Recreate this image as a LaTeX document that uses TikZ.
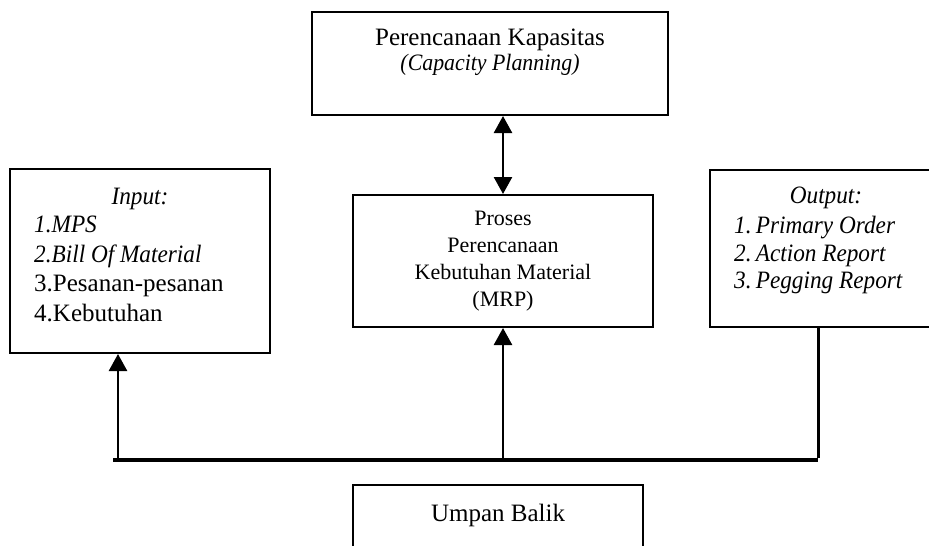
\documentclass[tikz,border=0pt]{standalone}
\usepackage{fontspec}
\setmainfont{Liberation Serif}[ItalicFeatures={FakeStretch=0.93}]
\usetikzlibrary{arrows.meta,positioning}

\begin{document}
\begin{tikzpicture}[x=1pt,y=-1pt,
    kotak/.style={draw,line width=2pt,inner sep=0pt},
    teks/.style={inner sep=0pt,align=center,font=\fontsize{25}{25}\selectfont},
    daftar/.style={inner sep=0pt,align=left,anchor=north west},
    panah/.style={line width=2.5pt,-{Triangle[width=18pt,length=17pt]}},
    panahdua/.style={line width=2.5pt,{Triangle[width=18pt,length=17pt]}-{Triangle[width=18pt,length=17pt]}}]
  \useasboundingbox (0,0) rectangle (929,546);
  % kotak
  \node[kotak,minimum width=356pt,minimum height=103pt] (kap) at (490,63.5) {};
  \node[teks,below=18pt of kap.north] (kapTeks) {Perencanaan Kapasitas\\{\fontsize{23.5}{25}\selectfont\textit{(Capacity Planning)}}};
  \node[kotak,minimum width=260pt,minimum height=184pt] (inp) at (140,261) {};
  \node[teks,below=19.5pt of inp.north] (inpJudul) {\textit{Input:}};
  \node[daftar,font=\fontsize{25}{29.5}\selectfont] (inpDaftar) at ([xshift=25pt,yshift=-48pt]inp.north west)
    {\textit{1.MPS}\\\textit{2.Bill Of Material}\\3.Pesanan-pesanan\\4.Kebutuhan};
  \node[kotak,minimum width=300pt,minimum height=132pt,align=center,
        font=\fontsize{22}{27}\selectfont] (mrp) at (503,261)
    {Proses\\Perencanaan\\Kebutuhan Material\\(MRP)};
  \node[kotak,minimum width=232pt,minimum height=157pt] (out) at (826,248.5) {};
  \node[teks,below=18pt of out.north] (outJudul) {\textit{Output:}};
  \node[daftar,font=\fontsize{25}{27.5}\itshape] (outDaftar) at ([xshift=25pt,yshift=-47pt]out.north west)
    {1.\,Primary Order\\2.\,Action Report\\3.\,Pegging Report};
  \node[kotak,minimum width=290pt,minimum height=100pt] (umpan) at (498,535) {};
  \node[teks,below=20pt of umpan.north] (umpanTeks) {Umpan Balik};
  % garis umpan balik
  \coordinate (umpanKiri) at (113,460);
  \coordinate (umpanKanan) at (818,460);
  \coordinate (masukan) at (118,460);
  \draw[panahdua] (mrp.north |- kap.south) -- (mrp.north);
  \draw[line width=4pt] (umpanKiri) -- (umpanKanan);
  \draw[line width=3pt] (out.south -| umpanKanan) -- ([yshift=2pt]umpanKanan);
  \draw[panah] (masukan) -- (masukan |- inp.south);
  \draw[panah] (mrp.south |- umpanKiri) -- (mrp.south);
\end{tikzpicture}
\end{document}
